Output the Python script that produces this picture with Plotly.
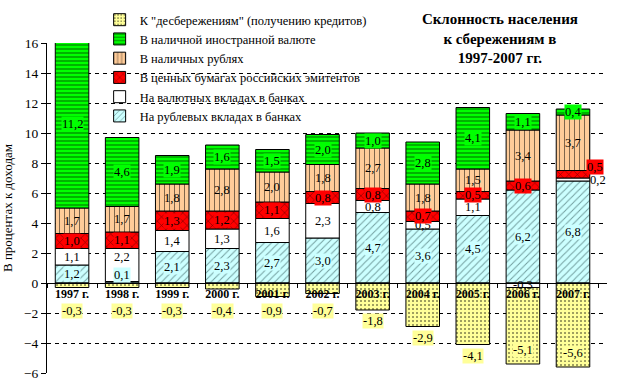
import plotly.graph_objects as go

years = ["1997 г.", "1998 г.", "1999 г.", "2000 г.", "2001 г.", "2002 г.",
         "2003 г.", "2004 г.", "2005 г.", "2006 г.", "2007 г."]

rub_dep    = [1.2, 0.1, 2.1, 2.3, 2.7, 3.0, 4.7, 3.6, 4.5, 6.2, 6.8]
fx_dep     = [1.1, 2.2, 1.4, 1.3, 1.6, 2.3, 0.8, 0.5, 1.1, -0.3, 0.2]
securities = [1.0, 1.1, 1.3, 1.2, 1.1, 0.8, 0.8, 0.7, 0.5, 0.6, 0.5]
cash_rub   = [1.7, 1.7, 1.8, 2.8, 2.0, 1.8, 2.7, 1.8, 1.5, 3.4, 3.7]
cash_fx    = [11.2, 4.6, 1.9, 1.6, 1.5, 2.0, 1.0, 2.8, 4.1, 1.1, 0.4]
dissav     = [-0.3, -0.3, -0.3, -0.4, -0.9, -0.7, -1.8, -2.9, -4.1, -5.1, -5.6]

names = ["На рублевых вкладах в банках",
         "На валютных вкладах в банках",
         "В ценных бумагах российских эмитентов",
         "В наличных рублях",
         "В наличной иностранной валюте",
         "К \"десбережениям\" (получению кредитов)"]

series = [rub_dep, fx_dep, securities, cash_rub, cash_fx, dissav]

styles = [
    dict(color="#CCFFFF", shape="/", size=5, solidity=0.2, fg="#1a4040", lbg="#CCFFFF"),
    dict(color="#FFFFFF", shape="", size=6, solidity=0.2, fg="black", lbg=None),
    dict(color="#FF0000", shape="x", size=6, solidity=0.2, fg="black", lbg="#FF0000"),
    dict(color="#FFCC99", shape="|", size=5, solidity=0.2, fg="black", lbg=None),
    dict(color="#00FF00", shape="-", size=4, solidity=0.3, fg="black", lbg="#00FF00"),
    dict(color="#FFFF99", shape=".", size=4, solidity=0.2, fg="black", lbg="#FFFF99"),
]

SERIF = "Liberation Serif, serif"

fig = go.Figure()
for k, (vals, name, st) in enumerate(zip(series, names, styles)):
    pattern = dict(shape=st["shape"], size=st["size"], solidity=st["solidity"],
                   fgcolor=st["fg"], fillmode="overlay")
    fig.add_trace(go.Bar(
        x=years, y=vals, name=name,
        marker=dict(color=st["color"], line=dict(color="black", width=1),
                    pattern=pattern),
        hoverinfo="skip",
    ))

# value labels
annotations = []
pos = [0.0] * len(years)
neg = [0.0] * len(years)
for si, (vals, st) in enumerate(zip(series, styles)):
    for i, v in enumerate(vals):
        if v >= 0:
            base = pos[i]
            pos[i] += v
            end = pos[i]
        else:
            base = neg[i]
            neg[i] += v
            end = neg[i]
        yc = (base + end) / 2
        xshift = 0
        yshift = 0
        if si == 5:
            yl = end - 0.75
            if yl < -5.3:
                yl = end + 0.95
            else:
                yl = min(yl, -1.85)
            yc = yl
        elif si == 0 and v < 0.5:
            yc = 0.55
        elif si == 1 and rub_dep[i] < 0.5:
            yshift = 8
        elif abs(v) < 0.3 and v > 0:
            xshift = 25
        if si == 2 and i + 1 == len(years) and fx_dep[i] < 0.3:
            xshift = 22
            yshift = 7
        txt = f"{v:.1f}".replace(".", ",")
        ann = dict(x=years[i], y=yc, text=txt, showarrow=False,
                   xshift=xshift, yshift=yshift,
                   font=dict(family=SERIF, size=12.5, color="black"),
                   borderpad=0)
        if st["lbg"]:
            ann["bgcolor"] = st["lbg"]
        annotations.append(ann)

fig.update_layout(
    width=621, height=386,
    margin=dict(l=47, r=14, t=43, b=13, autoexpand=False),
    paper_bgcolor="white", plot_bgcolor="white",
    barmode="relative", bargap=0.33,
    font=dict(family=SERIF, size=12, color="black"),
    title=dict(text="<b>Склонность населения<br>к сбережениям в<br>1997-2007 гг.</b>",
               x=0.805, xanchor="center", y=0.937, yanchor="top",
               font=dict(family=SERIF, size=15, color="black")),
    legend=dict(traceorder="reversed", x=0.094, xanchor="left", y=1.115,
                yanchor="top", bgcolor="rgba(0,0,0,0)", font=dict(family=SERIF, size=12.5),
                itemwidth=30),
    xaxis=dict(anchor="free", position=6 / 22, showline=True, linecolor="black",
               linewidth=1, ticks="outside", ticklen=4, tickcolor="black",
               tickson="boundaries", showgrid=False,
               tickfont=dict(family=SERIF, size=12, color="black"),
               tickprefix="<b>", ticksuffix="</b>"),
    yaxis=dict(range=[-6, 16], dtick=2, tick0=0, showline=True, linecolor="black",
               linewidth=1, ticks="outside", ticklen=5, tickcolor="black",
               showgrid=True, gridcolor="black", gridwidth=1, griddash="4px,4px",
               zeroline=True, zerolinecolor="black", zerolinewidth=1,
               tickfont=dict(family=SERIF, size=13.5, color="black"),
               title=dict(text="В процентах к доходам", standoff=8,
                          font=dict(family=SERIF, size=13, color="black"))),
    yaxis2=dict(range=[-6, 16], dtick=2, tick0=0, overlaying="y", side="left",
                ticks="inside", ticklen=5, tickcolor="black", showticklabels=False,
                showgrid=False, zeroline=False, showline=False),
    annotations=annotations,
)

fig.write_html("out.html", config={"displayModeBar": False},
               post_script="document.body.style.margin='0';")
